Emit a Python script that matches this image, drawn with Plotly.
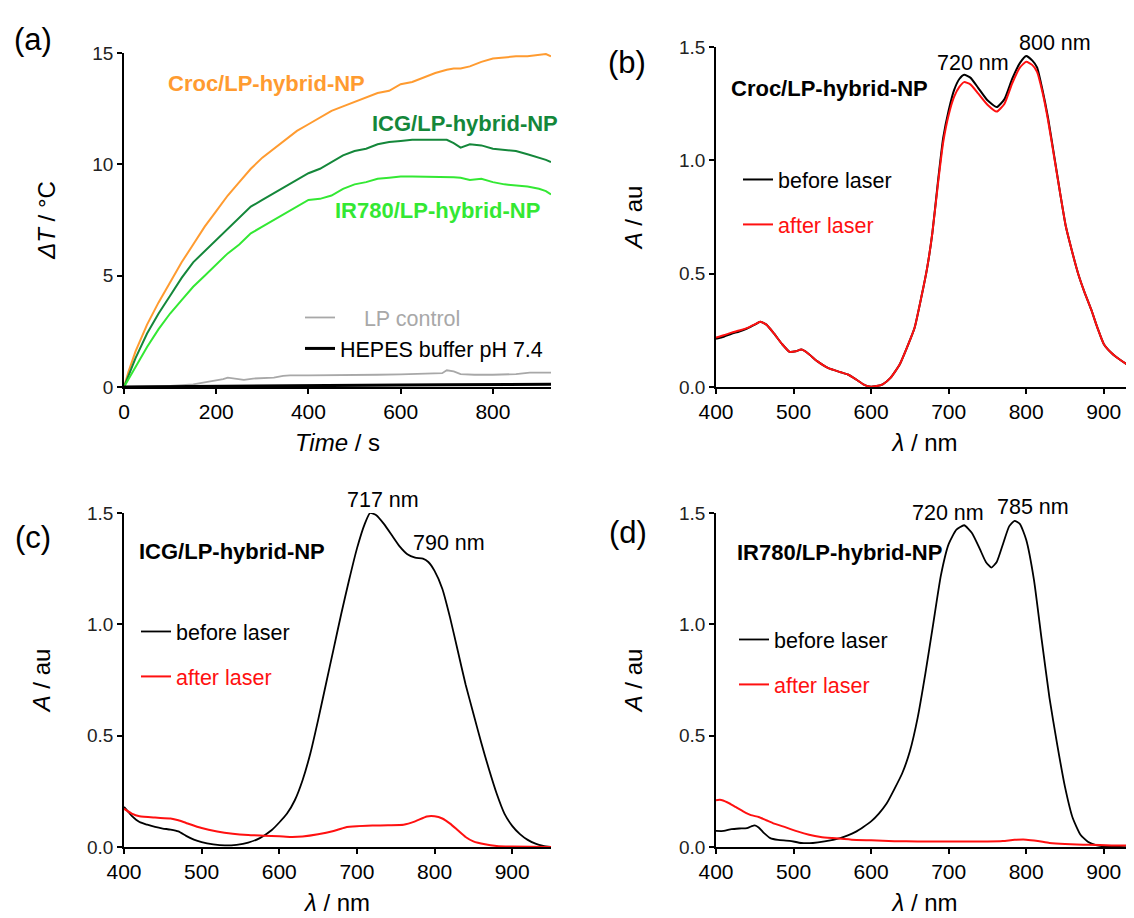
import plotly.graph_objects as go

# The page body adds an 8 px offset; the figure fills the rest of the 1134x918 window.
OFF = 8
W, H = 1134 - OFF, 918 - OFF
FONT = "Liberation Sans, Arial, Helvetica, sans-serif"

# ---------------- (a) photothermal heating ----------------
time_s = [0, 10, 25, 50, 75, 100, 125, 150, 175, 200, 225, 250, 275, 300, 325, 350, 375, 400,
          425, 450, 475, 500, 525, 550, 575, 600, 625, 650, 675, 700, 715, 730, 750, 775, 800,
          825, 850, 875, 900, 915, 926]
croc_dT = [0, 0.7, 1.6, 2.8, 3.8, 4.7, 5.6, 6.4, 7.2, 7.9, 8.6, 9.2, 9.8, 10.3, 10.7, 11.1, 11.5, 11.8,
           12.1, 12.4, 12.6, 12.8, 13.0, 13.2, 13.3, 13.6, 13.7, 13.9, 14.1, 14.25, 14.3, 14.3, 14.4, 14.6, 14.75,
           14.8, 14.85, 14.85, 14.9, 14.95, 14.85]
icg_dT = [0, 0.5, 1.3, 2.4, 3.3, 4.1, 4.9, 5.6, 6.1, 6.6, 7.1, 7.6, 8.1, 8.4, 8.7, 9.0, 9.3, 9.6,
          9.8, 10.1, 10.4, 10.6, 10.7, 10.9, 11.0, 11.05, 11.1, 11.1, 11.1, 11.1, 10.95, 10.75, 10.9, 10.85, 10.7,
          10.65, 10.6, 10.45, 10.3, 10.2, 10.1]
ir780_dT = [0, 0.35, 0.9, 1.8, 2.6, 3.3, 3.9, 4.5, 5.0, 5.5, 6.0, 6.4, 6.9, 7.2, 7.5, 7.8, 8.1, 8.4,
            8.45, 8.6, 8.9, 9.1, 9.2, 9.35, 9.4, 9.45, 9.45, 9.45, 9.45, 9.45, 9.42, 9.4, 9.3, 9.35, 9.2,
            9.1, 9.05, 9.0, 8.9, 8.8, 8.65]
lp_time = [0, 50, 100, 150, 175, 200, 215, 225, 240, 260, 280, 300, 325, 345, 360, 400, 450, 500,
           550, 600, 650, 690, 700, 715, 730, 760, 800, 850, 880, 900, 926]
lp_dT = [0, 0.02, 0.05, 0.12, 0.2, 0.28, 0.35, 0.42, 0.38, 0.32, 0.38, 0.4, 0.42, 0.5, 0.52, 0.52, 0.52, 0.52,
         0.55, 0.57, 0.6, 0.62, 0.75, 0.7, 0.58, 0.55, 0.55, 0.58, 0.65, 0.65, 0.65]
hepes_time = [0, 100, 200, 300, 400, 500, 600, 700, 800, 926]
hepes_dT = [0, 0.02, 0.04, 0.06, 0.07, 0.08, 0.09, 0.1, 0.11, 0.12]

# ---------------- (b) Croc/LP-hybrid-NP ----------------
wl_b = [400, 410, 420, 430, 440, 450, 457, 465, 475, 485, 495, 503, 510, 518, 530, 545, 560, 570, 580,
        590, 598, 605, 615, 625, 637, 647, 656, 665, 672, 679, 686, 693, 700, 707, 714, 720, 728, 738,
        750, 762, 772, 782, 792, 800, 808, 814, 821, 828, 837, 844, 851, 859, 867, 875, 884, 892, 900,
        910, 921, 930, 940]
croc_before = [0.213, 0.222, 0.235, 0.245, 0.258, 0.275, 0.288, 0.275, 0.235, 0.19, 0.155, 0.158, 0.165, 0.15,
               0.115, 0.083, 0.066, 0.055, 0.035, 0.012, 0.002, 0.003, 0.012, 0.04, 0.1, 0.18, 0.26, 0.4, 0.52,
               0.68, 0.9, 1.1, 1.22, 1.31, 1.36, 1.378, 1.365, 1.32, 1.265, 1.235, 1.27, 1.36, 1.43, 1.46,
               1.44, 1.41, 1.31, 1.19, 1.0, 0.85, 0.71, 0.6, 0.5, 0.42, 0.34, 0.26, 0.19, 0.15, 0.12, 0.1, 0.085]
croc_after = [0.218, 0.228, 0.24, 0.249, 0.26, 0.276, 0.288, 0.275, 0.235, 0.19, 0.155, 0.158, 0.165, 0.15,
              0.115, 0.083, 0.066, 0.055, 0.035, 0.012, 0.002, 0.003, 0.012, 0.04, 0.1, 0.18, 0.26, 0.4, 0.52,
              0.68, 0.89, 1.08, 1.2, 1.28, 1.325, 1.345, 1.335, 1.295, 1.245, 1.215, 1.25, 1.34, 1.41, 1.435,
              1.42, 1.39, 1.3, 1.18, 0.995, 0.85, 0.71, 0.6, 0.5, 0.42, 0.34, 0.26, 0.19, 0.15, 0.12, 0.1, 0.085]

# ---------------- (c) ICG/LP-hybrid-NP ----------------
wl_c = [400, 405, 410, 420, 430, 440, 450, 460, 470, 480, 490, 500, 515, 530, 545, 560, 575, 590, 600,
        610, 620, 630, 640, 650, 660, 670, 680, 690, 700, 710, 717, 725, 735, 745, 755, 765, 775,
        785, 792, 800, 810, 820, 830, 840, 850, 860, 870, 880, 890, 900, 910, 920, 930, 940, 950]
icg_before = [0.18, 0.16, 0.14, 0.112, 0.1, 0.09, 0.083, 0.078, 0.07, 0.05, 0.033, 0.022, 0.012, 0.007, 0.01,
              0.02, 0.04, 0.075, 0.11, 0.15, 0.21, 0.3, 0.42, 0.57, 0.73, 0.89, 1.05, 1.2, 1.34, 1.45,
              1.5, 1.49, 1.45, 1.4, 1.35, 1.315, 1.3, 1.295, 1.28, 1.24, 1.16, 1.03, 0.88, 0.73, 0.6, 0.47,
              0.35, 0.24, 0.15, 0.095, 0.058, 0.032, 0.015, 0.005, 0.0]
wl_c_after = [400, 410, 420, 440, 460, 470, 480, 500, 520, 540, 560, 580, 600, 615, 630, 650, 670, 685,
              700, 720, 740, 760, 775, 790, 800, 810, 820, 830, 840, 850, 865, 880, 900, 950]
icg_after = [0.172, 0.15, 0.138, 0.132, 0.128, 0.12, 0.108, 0.085, 0.07, 0.06, 0.054, 0.051, 0.048, 0.045,
             0.047, 0.057, 0.072, 0.088, 0.093, 0.096, 0.098, 0.1, 0.115, 0.137, 0.138, 0.128, 0.105, 0.075,
             0.045, 0.025, 0.012, 0.005, 0.002, 0.0]

# ---------------- (d) IR780/LP-hybrid-NP ----------------
wl_d = [400, 410, 420, 430, 440, 445, 450, 455, 462, 470, 480, 495, 510, 525, 540, 560, 570, 580, 590,
        600, 610, 620, 630, 640, 650, 660, 670, 680, 690, 700, 710, 720, 730, 740, 748, 755, 762, 770,
        778, 785, 792, 800, 810, 820, 830, 840, 850, 860, 870, 880, 890, 900, 920, 940]
ir780_before = [0.072, 0.072, 0.08, 0.083, 0.085, 0.092, 0.097, 0.088, 0.062, 0.04, 0.032, 0.028, 0.018,
                0.018, 0.025, 0.04, 0.052, 0.068, 0.09, 0.115, 0.15, 0.195, 0.26, 0.33, 0.43, 0.58, 0.78,
                1.0, 1.22, 1.36, 1.425, 1.445, 1.41, 1.34, 1.28, 1.255, 1.28, 1.36, 1.44, 1.465, 1.45, 1.38,
                1.2, 0.93, 0.67, 0.46, 0.27, 0.13, 0.055, 0.022, 0.008, 0.003, 0.0, 0.0]
wl_d_after = [400, 405, 415, 425, 435, 445, 455, 465, 475, 490, 505, 520, 535, 550, 575, 600, 630, 660,
              700, 750, 770, 785, 800, 815, 830, 850, 880, 910, 940]
ir780_after = [0.21, 0.212, 0.2, 0.18, 0.16, 0.143, 0.135, 0.12, 0.105, 0.088, 0.07, 0.055, 0.045, 0.04,
               0.033, 0.03, 0.026, 0.025, 0.025, 0.025, 0.027, 0.032, 0.033, 0.027, 0.018, 0.013, 0.01,
               0.007, 0.006]

ORANGE = "#FF9B30"
DKGREEN = "#14873A"
LTGREEN = "#33E833"
GREY = "#A8A8A8"
RED = "#FF1010"

TXT = 21.5


def px(x):
    """window pixel x -> paper fraction"""
    return (x - OFF) / W


def py(y):
    """window pixel y (from top) -> paper fraction"""
    return 1 - (y - OFF) / H


fig = go.Figure()

# (a)
fig.add_trace(go.Scatter(x=time_s, y=croc_dT, mode="lines", line=dict(color=ORANGE, width=2),
                         showlegend=False, xaxis="x", yaxis="y"))
fig.add_trace(go.Scatter(x=time_s, y=icg_dT, mode="lines", line=dict(color=DKGREEN, width=2),
                         showlegend=False, xaxis="x", yaxis="y"))
fig.add_trace(go.Scatter(x=time_s, y=ir780_dT, mode="lines", line=dict(color=LTGREEN, width=2),
                         showlegend=False, xaxis="x", yaxis="y"))
fig.add_trace(go.Scatter(x=lp_time, y=lp_dT, mode="lines", line=dict(color=GREY, width=1.8),
                         name="<span style='color:#A8A8A8'>\u00a0\u00a0\u00a0\u00a0LP control</span>",
                         legend="legend", xaxis="x", yaxis="y"))
fig.add_trace(go.Scatter(x=hepes_time, y=hepes_dT, mode="lines", line=dict(color="black", width=3),
                         name="HEPES buffer pH 7.4", legend="legend", xaxis="x", yaxis="y"))

SPL = dict(shape="spline", smoothing=0.5)
# (b)
fig.add_trace(go.Scatter(x=wl_b, y=croc_before, mode="lines", line=dict(color="black", width=2, **SPL),
                         name="before laser", legend="legend2", legendgroup="b1", xaxis="x2", yaxis="y2"))
fig.add_trace(go.Scatter(x=wl_b, y=croc_after, mode="lines", line=dict(color=RED, width=2, **SPL),
                         name="<span style='color:#FF1010'>after laser</span>", legend="legend2", legendgroup="b2",
                         xaxis="x2", yaxis="y2"))
# (c)
fig.add_trace(go.Scatter(x=wl_c, y=icg_before, mode="lines", line=dict(color="black", width=1.8, **SPL),
                         name="before laser", legend="legend3", legendgroup="c1", xaxis="x3", yaxis="y3"))
fig.add_trace(go.Scatter(x=wl_c_after, y=icg_after, mode="lines", line=dict(color=RED, width=2, **SPL),
                         name="<span style='color:#FF1010'>after laser</span>", legend="legend3", legendgroup="c2",
                         xaxis="x3", yaxis="y3"))
# (d)
fig.add_trace(go.Scatter(x=wl_d, y=ir780_before, mode="lines", line=dict(color="black", width=1.8, **SPL),
                         name="before laser", legend="legend4", legendgroup="d1", xaxis="x4", yaxis="y4"))
fig.add_trace(go.Scatter(x=wl_d_after, y=ir780_after, mode="lines", line=dict(color=RED, width=2, **SPL),
                         name="<span style='color:#FF1010'>after laser</span>", legend="legend4", legendgroup="d2",
                         xaxis="x4", yaxis="y4"))


def xax(domain, rng, tickvals, title, anchor):
    return dict(domain=domain, range=rng, anchor=anchor, tickvals=tickvals, automargin=False,
                showline=True, linecolor="black", linewidth=1.6, ticks="outside", ticklen=5,
                tickwidth=1.5, tickcolor="black", showgrid=False, zeroline=False,
                tickfont=dict(family=FONT, size=21, color="black"),
                title=dict(text=title, font=dict(family=FONT, size=24, color="black"), standoff=12))


def yax(domain, rng, tickvals, ticktext, title, anchor):
    return dict(domain=domain, range=rng, anchor=anchor, tickvals=tickvals, ticktext=ticktext,
                automargin=False,
                showline=True, linecolor="black", linewidth=1.6, ticks="outside", ticklen=5,
                tickwidth=1.5, tickcolor="black", showgrid=False, zeroline=False,
                tickfont=dict(family=FONT, size=19, color="#222222"),
                title=dict(text=title, font=dict(family=FONT, size=24, color="black"), standoff=30))


xL = [px(124), px(551)]
xR = [px(716), 1.0]
yT_a = [py(387), py(53)]
yT_b = [py(387), py(47)]
yB = [py(847), py(513)]

spec_ticks_y = [0.0, 0.5, 1.0, 1.5]
spec_text_y = ["0.0", "0.5", "1.0", "1.5"]

LEG = dict(xanchor="left", yanchor="top", bgcolor="rgba(0,0,0,0)",
           font=dict(family=FONT, size=TXT, color="black"))

fig.update_layout(
    width=W, height=H, margin=dict(l=0, r=0, t=0, b=0, autoexpand=False),
    paper_bgcolor="white", plot_bgcolor="white",
    font=dict(family=FONT, size=TXT, color="black"),
    xaxis=xax(xL, [0, 926], [0, 200, 400, 600, 800], "<i>Time</i> / s", "y"),
    yaxis=yax(yT_a, [0, 15], [0, 5, 10, 15], ["0", "5", "10", "15"], "<i>ΔT</i> / °C", "x"),
    xaxis2=xax(xR, [400, 939], [400, 500, 600, 700, 800, 900], "<i>λ</i> / nm", "y2"),
    yaxis2=yax(yT_b, [0, 1.5], spec_ticks_y, spec_text_y, "<i>A</i> / au", "x2"),
    xaxis3=xax(xL, [400, 950], [400, 500, 600, 700, 800, 900], "<i>λ</i> / nm", "y3"),
    yaxis3=yax(yB, [0, 1.5], spec_ticks_y, spec_text_y, "<i>A</i> / au", "x3"),
    xaxis4=xax(xR, [400, 939], [400, 500, 600, 700, 800, 900], "<i>λ</i> / nm", "y4"),
    yaxis4=yax(yB, [0, 1.5], spec_ticks_y, spec_text_y, "<i>A</i> / au", "x4"),
    legend=dict(x=px(300), y=py(297), tracegroupgap=0, **LEG),
    legend2=dict(x=px(738), y=py(159), tracegroupgap=14, **LEG),
    legend3=dict(x=px(136), y=py(611), tracegroupgap=14, **LEG),
    legend4=dict(x=px(734), y=py(619), tracegroupgap=14, **LEG),
)


def note(text, x, y, size=TXT, color="black", bold=False):
    if bold:
        text = "<b>" + text + "</b>"
    fig.add_annotation(text=text, x=px(x), y=py(y), xref="paper", yref="paper",
                       xanchor="center", yanchor="middle", showarrow=False,
                       font=dict(family=FONT, size=size, color=color))


# panel letters
note("(a)", 33, 40, size=31)
note("(b)", 627, 62, size=31)
note("(c)", 33, 537, size=31)
note("(d)", 628, 532, size=31)

# panel (a) labels
note("Croc/LP-hybrid-NP", 266, 83, size=22, color=ORANGE, bold=True)
note("ICG/LP-hybrid-NP", 465, 124, size=22, color=DKGREEN, bold=True)
note("IR780/LP-hybrid-NP", 438, 210, size=22, color=LTGREEN, bold=True)

# panel (b)
note("Croc/LP-hybrid-NP", 829, 88, size=22, bold=True)
note("720 nm", 973, 63)
note("800 nm", 1055, 43)
# panel (c)
note("ICG/LP-hybrid-NP", 232, 551, size=22, bold=True)
note("717 nm", 383, 500)
note("790 nm", 449, 543)
# panel (d)
note("IR780/LP-hybrid-NP", 839, 552, size=22, bold=True)
note("720 nm", 948, 513)
note("785 nm", 1033, 507)

fig.write_html("out.html")
